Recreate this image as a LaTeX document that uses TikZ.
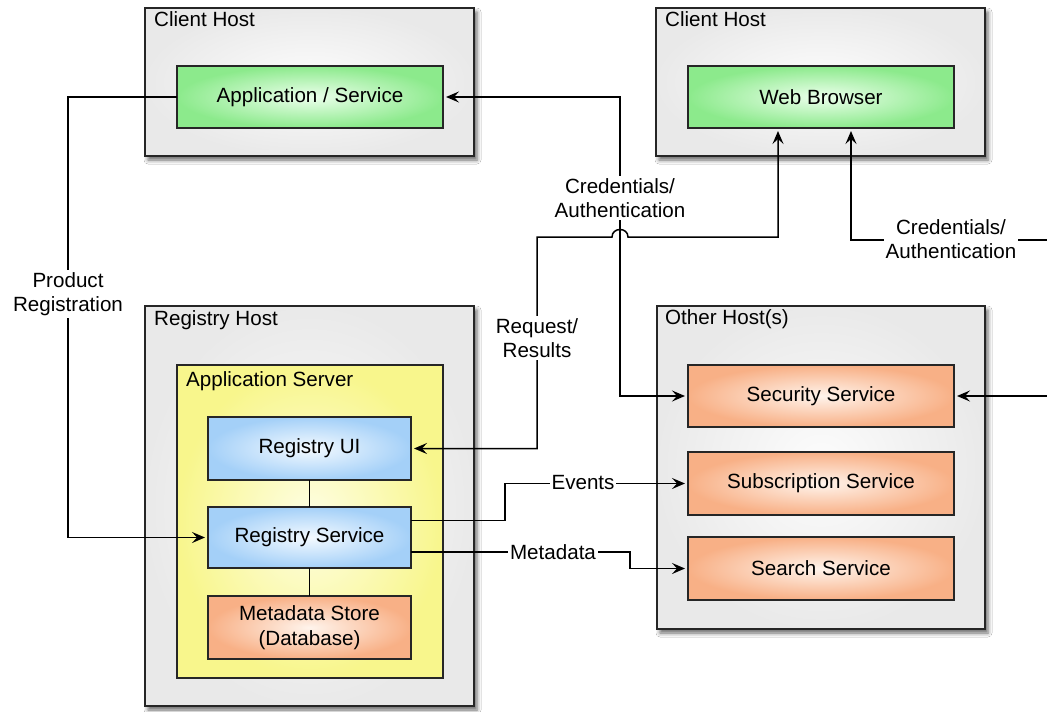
\documentclass[tikz,border=0pt]{standalone}
\usepackage{fontspec}
\setmainfont{Liberation Sans}
\usetikzlibrary{arrows.meta,calc,shadows.blur}

\begin{document}
\begin{tikzpicture}[x=1pt,y=-1pt,
  font=\fontsize{20.6}{24.5}\selectfont,
  >={Stealth[length=13pt,width=11pt,inset=5pt]},
  host/.style={draw=black!85, line width=1.9pt, inner sep=0pt, outer sep=0pt,
    inner color=gray!2, outer color=gray!17,
    minimum width=329pt, minimum height=148pt,
    blur shadow={shadow xshift=3pt, shadow yshift=-4pt, shadow blur radius=4pt, shadow opacity=60}},
  part/.style={draw=black!85, line width=1.6pt, inner sep=0pt, outer sep=0pt,
    minimum width=266pt, minimum height=62pt, align=center},
  greenbox/.style={part, inner color={rgb,255:red,236;green,255;blue,236}, outer color={rgb,255:red,140;green,234;blue,140}},
  bluebox/.style={part, inner color={rgb,255:red,244;green,250;blue,255}, outer color={rgb,255:red,164;green,208;blue,248}, minimum width=203pt, minimum height=62pt},
  orangebox/.style={part, inner color={rgb,255:red,255;green,244;blue,236}, outer color={rgb,255:red,248;green,176;blue,134}},
  yellowbox/.style={part, inner color={rgb,255:red,254;green,254;blue,228}, outer color={rgb,255:red,248;green,246;blue,140}},
  hostlabel/.style={anchor=base west, inner sep=0pt},
  wire/.style={line width=1.5pt, shorten >=3pt},
  tag/.style={fill=white, inner sep=2pt, align=center}
]
\useasboundingbox (0,0) rectangle (1047,712);
\fill[white] (0,0) rectangle (1047,712);

% hosts
\node[host] (ch1) at (309.5,82) {};
\node[host] (ch2) at (820.5,82) {};
\node[host, minimum height=400pt] (rh) at (309.5,506) {};
\node[host, minimum width=328pt, minimum height=323pt] (oh) at (821,467.5) {};

\node[hostlabel] (ch1l) at ($(ch1.north west)+(9,19)$) {Client Host};
\node[hostlabel] (ch2l) at ($(ch2.north west)+(9,19)$) {Client Host};
\node[hostlabel] (rhl) at ($(rh.north west)+(9,19)$) {Registry Host};
\node[hostlabel] (ohl) at ($(oh.north west)+(8,18)$) {Other Host(s)};

% client software
\node[greenbox] (app) at (310,97) {Application / Service};
\node[greenbox] (web) at (821,97) {Web Browser};

% application server with its components
\node[yellowbox, minimum height=313pt] (as) at (310,521.5) {};
\node[hostlabel] (asl) at ($(as.north west)+(9,21)$) {Application Server};
\node[bluebox, minimum height=63pt] (ui) at (309.5,448.5) {Registry UI};
\node[bluebox, minimum height=61pt] (regsvc) at (309.5,537.5) {Registry Service};
\node[orangebox, minimum width=203pt, minimum height=63pt] (store) at (309.5,627.5) {Metadata Store\\(Database)};

% services on other hosts
\node[orangebox] (sec) at (821,396) {Security Service};
\node[orangebox, minimum height=63pt] (sub) at (821,483.5) {Subscription Service};
\node[orangebox, minimum height=63pt] (search) at (821,568.5) {Search Service};

% internal links
\draw[line width=1.5pt] (ui.south) -- (regsvc.north);
\draw[line width=1.5pt] (regsvc.south) -- (store.north);

% connectors
\draw[wire,->] (app.west) -- ++(-109,0) |- (regsvc.west);
\draw[wire,<->,shorten <=3pt] (app.east) -- ++(177,0) |- (sec.west);

\coordinate (rrB) at (537,237);
\coordinate (hopL) at (612,237);
\coordinate (hopR) at (628,237);
\draw[wire,<->,shorten <=3pt] (ui.east) -| (rrB) -- (hopL)
  .. controls ($(hopL)+(0,-10)$) and ($(hopR)+(0,-10)$) .. (hopR)
  -| ($(web.south)+(-43,0)$);

\coordinate (rim1) at (1047,240);
\coordinate (rim2) at (1047,396);
\draw[wire,->] (rim1) -| ($(web.south)+(30,0)$);
\draw[wire,->] (rim2) -- (sec.east);

\draw[wire,->] ($(regsvc.east)+(0,-17)$) -- ++(94,0) |- (sub.west);
\draw[wire,->] ($(regsvc.east)+(0,14.5)$) -- ++(219,0) |- (search.west);

% connector labels
\node[tag] (prl) at (68,294) {Product\\Registration};
\node[tag] (crl) at (620,198) {Credentials/\\Authentication};
\node[tag] (rql) at (537,338) {Request/\\Results};
\node[tag] (crr) at (951,239) {Credentials/\\Authentication};
\node[tag] (evl) at (583,483) {Events};
\node[tag] (mdl) at (553,552) {Metadata};
\end{tikzpicture}
\end{document}
